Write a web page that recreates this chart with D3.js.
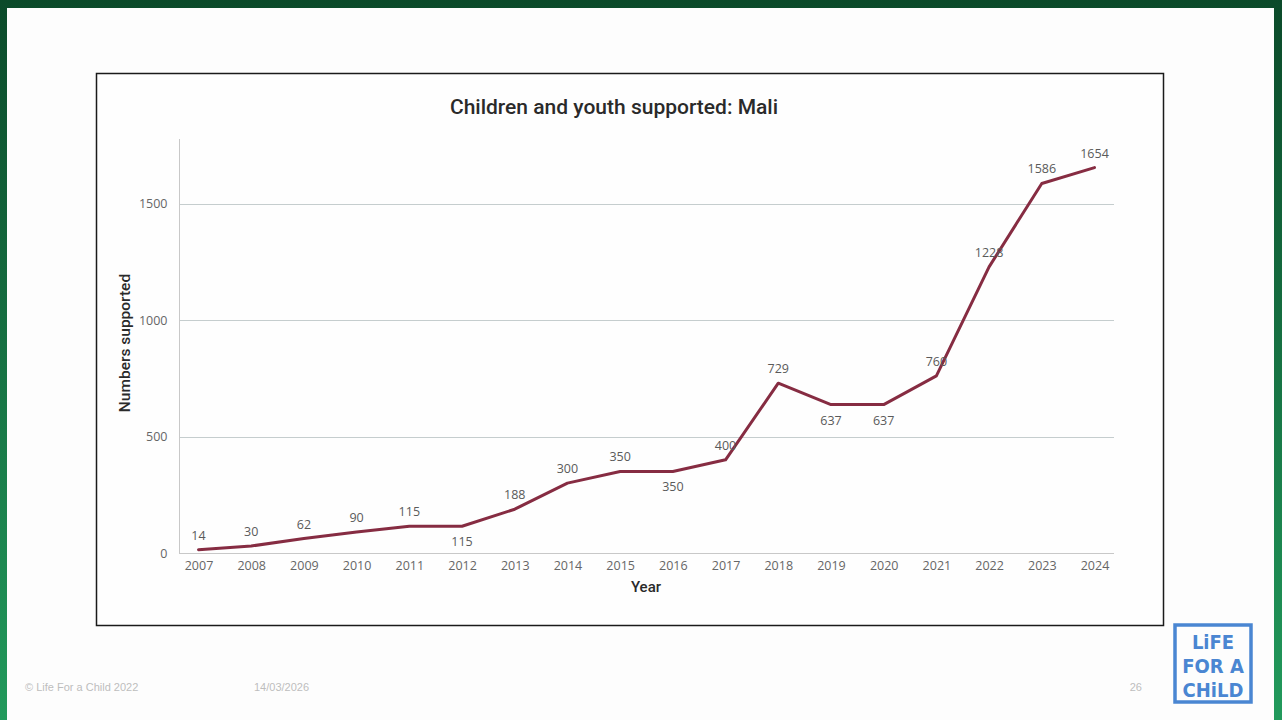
<!DOCTYPE html>
<html>
<head>
<meta charset="utf-8">
<script src="https://cdn.jsdelivr.net/npm/d3@7"></script>
<style>
  html, body { margin: 0; padding: 0; background: #fdfdfd; }
  svg { display: block; }
</style>
</head>
<body>
<div id="chart"></div>
<script>
(function() {
  'use strict'

  // Chart data.
  var years  = ['2007','2008','2009','2010','2011','2012','2013','2014','2015',
                '2016','2017','2018','2019','2020','2021','2022','2023','2024'];
  var supported = [14, 30, 62, 90, 115, 115, 188, 300, 350,
                   350, 400, 729, 637, 637, 760, 1228, 1586, 1654];
  // Labels that sit under the line rather than above it.
  var labelBelow = ['2012', '2016', '2019', '2020'];
  var yTicks = [0, 500, 1000, 1500];

  var width  = 1282;
  var height = 720;

  var svg = d3.select('#chart')
              .append('svg')
              .attr('width', width)
              .attr('height', height);

  // Slide frame: green gradient edges around a white page.
  var defs = svg.append('defs');
  var grad = defs.append('linearGradient')
                 .attr('id', 'edge')
                 .attr('x1', 0).attr('y1', 0).attr('x2', 0).attr('y2', 1);
  grad.append('stop').attr('offset', '0%').attr('stop-color', '#0b4a2a');
  grad.append('stop').attr('offset', '100%').attr('stop-color', '#229a5c');

  svg.append('rect')
     .attr('width', width).attr('height', height)
     .attr('fill', 'url(#edge)');
  svg.append('rect')
     .attr('x', 7).attr('y', 8)
     .attr('width', 1267).attr('height', 712)
     .attr('fill', '#fdfdfd');

  // Chart box.
  svg.append('rect')
     .attr('x', 96.5).attr('y', 73.5)
     .attr('width', 1067).attr('height', 552)
     .attr('fill', '#fefefe')
     .attr('stroke', '#1a1a1a')
     .attr('stroke-width', 1.5);

  var plot = { left: 179, right: 1114, top: 139, bottom: 553 };

  var x = d3.scalePoint()
            .domain(years)
            .range([plot.left, plot.right])
            .padding(0.37);

  var y = d3.scaleLinear()
            .domain([0, 1777])
            .range([plot.bottom, plot.top]);

  // Gridlines.
  svg.append('g')
     .selectAll('line')
     .data(yTicks.filter(function(d) { return d > 0; }))
     .enter().append('line')
     .attr('x1', plot.left).attr('x2', plot.right)
     .attr('y1', function(d) { return Math.round(y(d)) + 0.5; })
     .attr('y2', function(d) { return Math.round(y(d)) + 0.5; })
     .attr('stroke', '#c5cdce')
     .attr('stroke-width', 1);

  // Y axis.
  var yAxis = svg.append('g')
                 .attr('transform', 'translate(' + (plot.left + 0.5) + ',0)')
                 .call(d3.axisLeft(y).tickValues(yTicks).tickFormat(d3.format('d'))
                         .tickSize(0).tickPadding(12));
  yAxis.select('.domain').attr('stroke', '#c8c8c8').attr('d', 'M0,' + plot.top + 'V' + plot.bottom);
  yAxis.selectAll('text')
       .attr('fill', '#666')
       .style('font-family', '"Open Sans", "DejaVu Sans", sans-serif')
       .style('font-size', '12.5px');

  // X axis.
  var xAxis = svg.append('g')
                 .attr('transform', 'translate(0,' + (plot.bottom + 0.5) + ')')
                 .call(d3.axisBottom(x).tickSize(0).tickPadding(8));
  xAxis.select('.domain').attr('stroke', '#c8c8c8').attr('d', 'M' + plot.left + ',0H' + plot.right);
  xAxis.selectAll('text')
       .attr('fill', '#666')
       .style('font-family', '"Open Sans", "DejaVu Sans", sans-serif')
       .style('font-size', '12.5px');

  // Line.
  var line = d3.line()
               .x(function(d, i) { return x(years[i]); })
               .y(function(d) { return y(d); });

  svg.append('path')
     .datum(supported)
     .attr('d', line)
     .attr('fill', 'none')
     .attr('stroke', '#862c42')
     .attr('stroke-width', 3)
     .attr('stroke-linejoin', 'round')
     .attr('stroke-linecap', 'round');

  // Data labels.
  svg.append('g')
     .selectAll('text')
     .data(supported)
     .enter().append('text')
     .attr('x', function(d, i) { return x(years[i]); })
     .attr('y', function(d, i) {
       return labelBelow.indexOf(years[i]) >= 0 ? y(d) + 20 : y(d) - 10;
     })
     .attr('text-anchor', 'middle')
     .attr('fill', '#5a5a5a')
     .style('font-family', '"Open Sans", "DejaVu Sans", sans-serif')
     .style('font-size', '12.5px')
     .text(function(d) { return d; });

  // Title and axis titles.
  svg.append('text')
     .attr('x', 614).attr('y', 114)
     .attr('text-anchor', 'middle')
     .attr('fill', '#2a2a2a')
     .style('font-family', 'Roboto, "DejaVu Sans", sans-serif')
     .style('font-size', '21px')
     .style('font-weight', 500)
     .text('Children and youth supported: Mali');

  svg.append('text')
     .attr('transform', 'translate(130,343) rotate(-90)')
     .attr('text-anchor', 'middle')
     .attr('fill', '#2a2a2a')
     .style('font-family', 'Roboto, "DejaVu Sans", sans-serif')
     .style('font-size', '15.5px')
     .style('font-weight', 500)
     .text('Numbers supported');

  svg.append('text')
     .attr('x', 646).attr('y', 592)
     .attr('text-anchor', 'middle')
     .attr('fill', '#2a2a2a')
     .style('font-family', 'Roboto, "DejaVu Sans", sans-serif')
     .style('font-size', '15px')
     .style('font-weight', 500)
     .text('Year');

  // Footer.
  var footer = svg.append('g')
                  .attr('fill', '#bdbdbd')
                  .style('font-family', '"Liberation Sans", Arial, sans-serif')
                  .style('font-size', '11px');
  footer.append('text').attr('x', 25).attr('y', 691).text('\u00a9 Life For a Child 2022');
  footer.append('text').attr('x', 254).attr('y', 691).text('14/03/2026');
  footer.append('text').attr('x', 1142).attr('y', 691).attr('text-anchor', 'end').text('26');

  // Logo.
  var logo = svg.append('g');
  logo.append('rect')
      .attr('x', 1175).attr('y', 625)
      .attr('width', 76).attr('height', 77)
      .attr('fill', 'none')
      .attr('stroke', '#4a86d2')
      .attr('stroke-width', 3.5);
  [['LiFE', 649], ['FOR A', 673], ['CHiLD', 697]].forEach(function(r) {
    logo.append('text')
        .attr('x', 1213).attr('y', r[1])
        .attr('text-anchor', 'middle')
        .attr('fill', '#4a86d2')
        .style('font-family', '"DejaVu Sans Condensed", "DejaVu Sans", sans-serif')
        .style('font-size', '20px')
        .style('font-weight', 'bold')
        .text(r[0]);
  });

})();
</script>
</body>
</html>
